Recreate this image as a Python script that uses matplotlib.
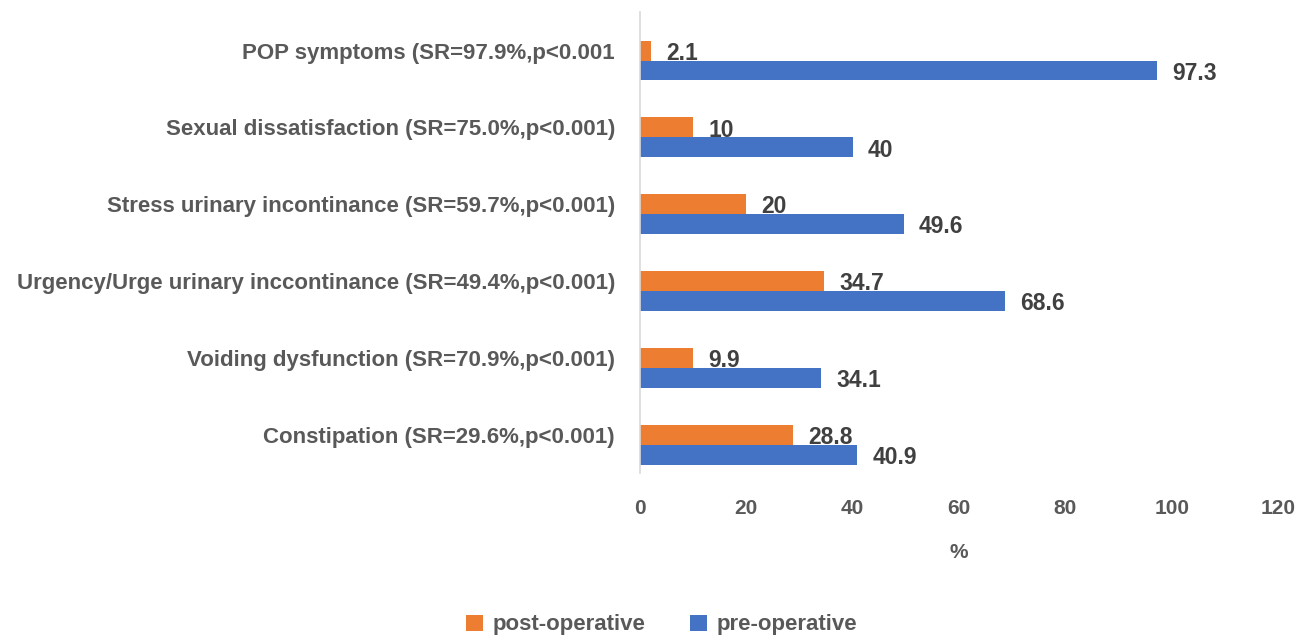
import numpy as np
from matplotlib import pyplot as plt

categories = [
    "Constipation (SR=29.6%,p<0.001)",
    "Voiding dysfunction (SR=70.9%,p<0.001)",
    "Urgency/Urge urinary inccontinance (SR=49.4%,p<0.001)",
    "Stress urinary incontinance (SR=59.7%,p<0.001)",
    "Sexual dissatisfaction (SR=75.0%,p<0.001)",
    "POP symptoms (SR=97.9%,p<0.001",
]
post_operative = [28.8, 9.9, 34.7, 20, 10, 2.1]
pre_operative = [40.9, 34.1, 68.6, 49.6, 40, 97.3]
x_ticks = [0, 20, 40, 60, 80, 100, 120]

ORANGE = '#ED7D31'
BLUE = '#4472C4'
GRAY = '#595959'
DARK = '#404040'

plt.rcParams['font.family'] = ['Liberation Sans', 'DejaVu Sans']

fig = plt.figure(figsize=(13.1, 6.39), dpi=100)
ax = fig.add_axes([0.4885, 0.2598, 0.4871, 0.7212])

y = np.arange(len(categories))
h = 0.26
# post-operative bar sits on the category line, pre-operative just below it
bars_post = ax.barh(y, post_operative, height=h, color=ORANGE, label='post-operative')
bars_pre = ax.barh(y - h, pre_operative, height=h, color=BLUE, label='pre-operative')

for bars in (bars_post, bars_pre):
    for b in bars:
        val = b.get_width()
        ax.annotate(f"{val:g}", (val, b.get_y() + b.get_height() / 2),
                    xytext=(11, -2), textcoords='offset points', va='center', ha='left',
                    fontsize=16.5, fontweight='bold', color=DARK)

ax.set_xlim(0, 120)
ax.set_ylim(-0.5, 5.5)
ax.set_xticks(x_ticks)
ax.set_yticks(y)
ax.set_yticklabels(categories)
ax.tick_params(axis='x', length=0, pad=19, labelsize=15, labelcolor=GRAY)
ax.tick_params(axis='y', length=0, pad=18, labelsize=16, labelcolor=GRAY)
for lbl in ax.get_xticklabels() + ax.get_yticklabels():
    lbl.set_fontweight('bold')

for s in ('top', 'right', 'bottom'):
    ax.spines[s].set_visible(False)
ax.spines['left'].set_color('#D9D9D9')
ax.spines['left'].set_linewidth(1.2)

ax.set_xlabel('%', fontsize=15, fontweight='bold', color=GRAY, labelpad=18)

fig.legend(handles=[bars_post, bars_pre], loc='center', bbox_to_anchor=(0.505, 0.022),
           ncol=2, frameon=False, handlelength=0.75, handleheight=0.75,
           columnspacing=2.0, handletextpad=0.45,
           prop={'weight': 'bold', 'size': 16})
for t in fig.legends[0].get_texts():
    t.set_color(GRAY)

fig.savefig('out.png', dpi=100)
